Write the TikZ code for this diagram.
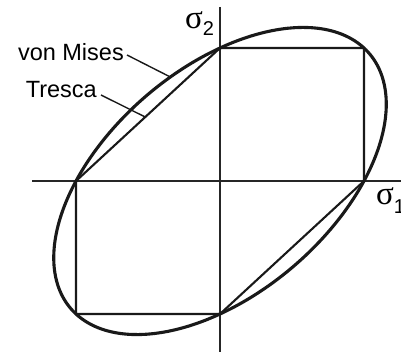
\documentclass[tikz,border=0pt]{standalone}
\usepackage{fontspec}
\setmainfont{Liberation Sans}
\newfontfamily\sigfont{Liberation Serif}
\begin{document}
\begin{tikzpicture}[x=1pt,y=1pt,
  axis/.style={line width=1.6pt, black!85},
  tresca/.style={line width=2.1pt, black!90, line join=miter},
  mises/.style={line width=3.1pt, black!90},
  leader/.style={line width=1.4pt, black!90},
  lbl/.style={inner sep=0pt, font=\fontsize{23.5}{26}\selectfont},
  sig/.style={inner sep=0pt}]
\useasboundingbox (0,0) rectangle (401,356);
% axes
\coordinate (xl) at (32,175);
\coordinate (xr) at (401,175);
\coordinate (yt) at (220,349);
\coordinate (yb) at (220,4);
\draw[axis] (xl) -- (xr);
\draw[axis] (yt) -- (yb);
\begin{scope}[shift={(220,175)}, x=144pt, y=133pt]
  \coordinate (A) at (0,1);
  \coordinate (B) at (1,1);
  \coordinate (C) at (1,0);
  \coordinate (D) at (0,-1);
  \coordinate (E) at (-1,-1);
  \coordinate (F) at (-1,0);
  \draw[tresca] (A) -- (B) -- (C) -- (D) -- (E) -- (F) -- cycle;
  \draw[mises] plot[domain=0:360, samples=240, smooth cycle]
    ({cos(\x)+sin(\x)/sqrt(3)}, {cos(\x)-sin(\x)/sqrt(3)});
  \coordinate (vmEnd) at (-0.345,0.782);
  \coordinate (trEnd) at (-0.519,0.481);
\end{scope}
% labels
\node[lbl, anchor=base east] (vm) at (124,295) {von Mises};
\node[lbl, anchor=base east] (tr) at (97,258) {Tresca};
\coordinate (vmStart) at (127,301);
\coordinate (trStart) at (101,261);
\draw[leader] (vmStart) -- (vmEnd);
\draw[leader] (trStart) -- (trEnd);
% axis labels
\node[sig, anchor=base west] (s2) at (185,327)
  {{\sigfont\fontsize{33}{34}\selectfont σ}\raisebox{-7pt}{\fontsize{20}{22}\selectfont 2}};
\node[sig, anchor=base west] (s1) at (376,151)
  {{\sigfont\fontsize{33}{34}\selectfont σ}\raisebox{-9pt}{\fontsize{20}{22}\selectfont 1}};
\end{tikzpicture}
\end{document}
